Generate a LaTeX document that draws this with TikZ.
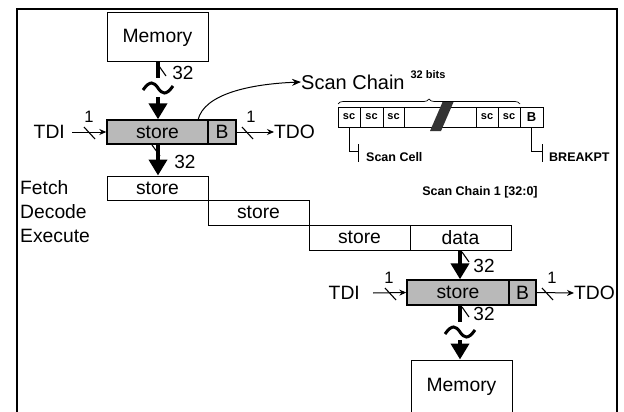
\documentclass[tikz,border=0pt]{standalone}
\usepackage{fontspec}
\setmainfont{Liberation Sans}
\usetikzlibrary{arrows.meta,decorations.pathreplacing}
\tikzset{
  big/.style={font=\fontsize{19.3}{21}\selectfont, inner sep=0pt},
  sml/.style={font=\fontsize{12.5}{14}\selectfont\bfseries, inner sep=0pt},
  onelab/.style={font=\fontsize{16.5}{18}\selectfont, inner sep=0pt},
  buslab/.style={font=\fontsize{19}{21}\selectfont, inner sep=0pt},
  box/.style={draw, line width=1pt, big, minimum height=24pt, minimum width=101pt},
  reg/.style={draw, line width=1.4pt, fill=gray!55, big, minimum height=24pt},
  cell/.style={draw, line width=0.9pt, minimum height=20pt, inner sep=0pt, font=\fontsize{11}{12}\selectfont\bfseries},
  bus/.style={line width=4.5pt},
  busarrow/.style={line width=4.5pt, -{Triangle[width=18pt,length=16pt]}},
  sig/.style={line width=1pt, -{Stealth[width=6pt,length=7pt]}},
  slash/.style={line width=1.1pt},
  tildestyle/.style={line width=3pt},
}
\begin{document}
\begin{tikzpicture}[x=1pt,y=-1pt]
\useasboundingbox (0,0) rectangle (624,412);
\fill[white] (0,0) rectangle (624,412);
% frame
\draw[line width=1.5pt] (17,416) -- (17,9) -- (617,9) -- (617,416);

% top memory
\node[box, minimum height=49pt] (mem1) at (157.5,37.5) {Memory};
% top register
\node[reg, minimum width=101pt] (st1) at (157.5,132) {store};
\node[reg, minimum width=28pt] (b1) at (222,132) {B};
% pipeline
\node[box] (f) at (157.5,188) {store};
\node[box, minimum height=25pt] (d) at (258.5,212.5) {store};
\node[box, minimum height=25pt] (e) at (359.5,237.5) {store};
\node[box, minimum height=25pt] (data) at (460.5,237.5) {data};
% bottom register
\node[reg, minimum width=102pt, minimum height=25pt] (st2) at (458,292.5) {store};
\node[reg, minimum width=27pt, minimum height=25pt] (b2) at (522.5,292.5) {B};
% bottom memory
\node[box, minimum height=54pt] (mem2) at (461.5,387) {Memory};

% stage labels
\node[big, anchor=west] (fl) at (20,188) {Fetch};
\node[big, anchor=west] (dl) at (20,212) {Decode};
\node[big, anchor=west] (el) at (20,236) {Execute};

% TDI/TDO top
\node[big, anchor=east] (tdi1) at (65,132) {TDI};
\node[big, anchor=west] (tdo1) at (274,132) {TDO};
\draw[sig] (tdi1.east) ++(7,0) coordinate (tdi1s) -- (st1.west);
\draw[slash] (84,127) -- (95,139);
\node[onelab] (one1) at (89,117) {1};
\draw[sig] (b1.east) -- (tdo1.west);
\draw[slash] (242,127) -- (253,139);
\node[onelab] (one2) at (251,117) {1};

% TDI/TDO bottom
\node[big, anchor=east] (tdi2) at (360,293) {TDI};
\node[big, anchor=west] (tdo2) at (574,293) {TDO};
\draw[sig] (tdi2.east) ++(13,0) -- (st2.west);
\draw[slash] (385,288) -- (396,300);
\node[onelab] (one3) at (389,278) {1};
\draw[sig] (b2.east) -- (tdo2.west);
\draw[slash] (542,288) -- (553,300);
\node[onelab] (one4) at (552,278) {1};

% top bus: memory -> tilde -> register
\coordinate (t1a) at (158,78);
\coordinate (t1b) at (158,97);
\draw[bus] (mem1.south -| t1a) -- (t1a);
\draw[slash] (159,66) -- (166,76);
\node[buslab] (n32a) at (183,73) {32};
\draw[tildestyle] (143,90) .. controls (150,80) and (154,82) .. (158,88) .. controls (162,94) and (166,96) .. (173,86);
\draw[busarrow] (t1b) -- (st1.north -| t1b);

% register -> fetch
\draw[busarrow] (st1.south -| t1b) -- (f.north -| t1b);
\draw[slash] (152,145) -- (160,156);
\node[buslab] (n32b) at (185,162) {32};

% data -> bottom register
\coordinate (t2) at (460,250);
\draw[busarrow] (data.south -| t2) -- (st2.north -| t2);
\draw[slash] (462,252) -- (469,262);
\node[buslab] (n32c) at (484,266) {32};

% bottom register -> tilde -> memory
\coordinate (t3a) at (460,322);
\coordinate (t3b) at (460,340);
\draw[bus] (st2.south -| t3a) -- (t3a);
\draw[slash] (462,307) -- (469,317);
\node[buslab] (n32d) at (484,314) {32};
\draw[tildestyle] (445,334) .. controls (452,324) and (456,326) .. (460,332) .. controls (464,338) and (468,340) .. (475,330);
\draw[busarrow] (t3b) -- (mem2.north -| t3b);

% Scan chain label and curved arrow
\node[font=\fontsize{20}{22}\selectfont, inner sep=0pt, anchor=west] (scl) at (301,82) {Scan Chain};
\node[font=\fontsize{11}{13}\selectfont\bfseries, inner sep=0pt] (bits) at (428,75) {32 bits};
\draw[line width=1pt, -{Stealth[width=7pt,length=9pt]}] (198,120) .. controls (204,94) and (250,84) .. (scl.west);

% scan chain cells
\node[cell, minimum width=22pt] (c1) at (349,117) {sc};
\node[cell, minimum width=23pt] (c2) at (371.5,117) {sc};
\node[cell, minimum width=21pt] (c3) at (393.5,117) {sc};
\node[cell, minimum width=72pt] (gap) at (440,117) {};
\node[cell, minimum width=22pt] (c4) at (487,117) {sc};
\node[cell, minimum width=22pt] (c5) at (509,117) {sc};
\node[cell, minimum width=23pt, font=\fontsize{13}{15}\selectfont\bfseries] (cb) at (531.5,117) {B};
\fill[black!80] (443,101) -- (454,101) -- (441,131) -- (430,131) -- cycle;
\draw[line width=0.7pt, decorate, decoration={brace, amplitude=5pt}] (338,104) -- (520,104);

% scan cell / breakpt callouts
\node[sml, anchor=west] (scell) at (366,157) {Scan Cell};
\node[sml, anchor=west] (bkpt) at (549,157) {BREAKPT};
\draw[line width=1pt] (c1.south) |- (358,151);
\draw[line width=1pt] (358,144) -- (358,162);
\draw[line width=1pt] (cb.south) |- (542,151);
\draw[line width=1pt] (542,144) -- (542,162);
\node[sml] (sc1l) at (480,192) {Scan Chain 1 [32:0]};
\end{tikzpicture}
\end{document}
